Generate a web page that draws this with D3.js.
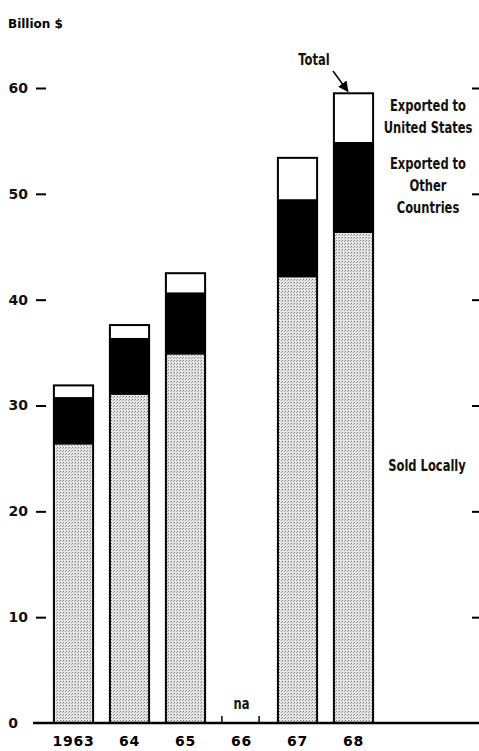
<!DOCTYPE html>
<html>
<head>
<meta charset="utf-8">
<script src="https://cdn.jsdelivr.net/npm/d3@7"></script>
<style>
  body { margin: 0; background: #fff; }
  svg { display: block; }
  .tick text { font-family: "DejaVu Sans", sans-serif; font-weight: bold; }
  .leg { font-family: "DejaVu Sans Condensed", "Liberation Sans Narrow", sans-serif; font-weight: bold; font-size: 16px; fill: #111; }
</style>
</head>
<body>
<div id="chart"></div>
<script>
// Datos (miles de millones de dólares)
var years = ["1963", "64", "65", "66", "67", "68"];
var soldLocally = [26.3, 31.0, 34.8, null, 42.1, 46.3];
var exportedOther = [4.5, 5.4, 5.9, null, 7.4, 8.6];
var exportedUS = [1.1, 1.2, 1.8, null, 3.9, 4.6];
var yTicks = [0, 10, 20, 30, 40, 50, 60];

var W = 479, H = 751;

var svg = d3.select("#chart")
  .append("svg")
  .attr("width", W)
  .attr("height", H);

// patrón punteado para "Sold Locally"
var defs = svg.append("defs");
var pat = defs.append("pattern")
  .attr("id", "stipple")
  .attr("patternUnits", "userSpaceOnUse")
  .attr("width", 3).attr("height", 3);
pat.append("rect").attr("width", 3).attr("height", 3).attr("fill", "#e6e6e6");
pat.append("rect").attr("x", 0).attr("y", 0).attr("width", 1).attr("height", 1).attr("fill", "#7a7a7a");
pat.append("rect").attr("x", 2).attr("y", 1).attr("width", 1).attr("height", 1).attr("fill", "#a0a0a0");

// escalas
var x = d3.scaleBand()
  .domain(years)
  .range([45.5, 381.5])
  .paddingInner(0.3)
  .paddingOuter(0.15);

var y = d3.scaleLinear()
  .domain([0, 60])
  .range([723, 88]);

// datos apilados
var data = years.map(function(yr, i) {
  return { year: yr, local: soldLocally[i], other: exportedOther[i], us: exportedUS[i] };
});
var valid = data.filter(function(d) { return d.local != null; });
var keys = ["local", "other", "us"];
var fills = { local: "url(#stipple)", other: "#000", us: "#fff" };
var stacked = d3.stack().keys(keys)(valid);

// eje izquierdo
var yAxisL = svg.append("g")
  .attr("transform", "translate(46,0)")
  .call(d3.axisLeft(y).tickValues(yTicks).tickSize(10).tickPadding(8));
yAxisL.select(".domain").remove();
yAxisL.selectAll(".tick line").attr("stroke", "#000").attr("stroke-width", 2);
yAxisL.selectAll(".tick text").style("font-size", "14px").attr("fill", "#111");
yAxisL.selectAll(".tick").filter(function(d) { return d === 0; }).select("line").remove();
yAxisL.selectAll(".tick").filter(function(d) { return d === 0; }).select("text").attr("x", -28);

// eje derecho (solo marcas)
var yAxisR = svg.append("g")
  .attr("transform", "translate(472,0)")
  .call(d3.axisRight(y).tickValues(yTicks.slice(1)).tickSize(7).tickFormat(""));
yAxisR.select(".domain").remove();
yAxisR.selectAll(".tick line").attr("stroke", "#000").attr("stroke-width", 2);

// barras
svg.selectAll("g.layer")
  .data(stacked)
  .enter()
  .append("g")
  .attr("class", "layer")
  .attr("fill", function(d) { return fills[d.key]; })
  .selectAll("rect")
  .data(function(d) { return d; })
  .enter()
  .append("rect")
  .attr("x", function(d) { return x(d.data.year); })
  .attr("width", x.bandwidth())
  .attr("y", function(d) { return y(d[1]); })
  .attr("height", function(d) { return y(d[0]) - y(d[1]); });

// contorno de cada barra
svg.selectAll("rect.outline")
  .data(valid)
  .enter()
  .append("rect")
  .attr("class", "outline")
  .attr("x", function(d) { return x(d.year); })
  .attr("width", x.bandwidth())
  .attr("y", function(d) { return y(d.local + d.other + d.us); })
  .attr("height", function(d) { return y(0) - y(d.local + d.other + d.us); })
  .attr("fill", "none")
  .attr("stroke", "#000")
  .attr("stroke-width", 2);

// línea base
svg.append("line")
  .attr("x1", 33).attr("x2", W)
  .attr("y1", y(0)).attr("y2", y(0))
  .attr("stroke", "#000").attr("stroke-width", 2.5);

// eje x: etiquetas de año
svg.selectAll("text.year")
  .data(years)
  .enter()
  .append("text")
  .attr("class", "year")
  .attr("x", function(d) { return x(d) + x.bandwidth() / 2; })
  .attr("y", 746)
  .attr("text-anchor", "middle")
  .style("font-family", "DejaVu Sans, sans-serif")
  .style("font-weight", "bold")
  .style("font-size", "14px")
  .style("letter-spacing", "0.8px")
  .text(function(d) { return d; });

// texto estrecho (escalado en horizontal)
function label(lines, cx, y0, size) {
  var g = svg.append("g").attr("transform", "translate(" + cx + "," + y0 + ") scale(0.8,1)");
  var t = g.append("text").attr("class", "leg").attr("text-anchor", "middle");
  if (size) t.style("font-size", size + "px");
  lines.forEach(function(s, i) {
    t.append("tspan").attr("x", 0).attr("y", i * 22).text(s);
  });
}

// 1966: sin datos
var naX = x("66");
svg.selectAll("line.na")
  .data([naX, naX + x.bandwidth() * 0.95])
  .enter()
  .append("line")
  .attr("class", "na")
  .attr("x1", function(d) { return d; }).attr("x2", function(d) { return d; })
  .attr("y1", y(0) - 7).attr("y2", y(0))
  .attr("stroke", "#000").attr("stroke-width", 1.5);
label(["na"], naX + x.bandwidth() / 2, y(0) - 14, 16);

// título del eje
svg.append("text")
  .attr("x", 8).attr("y", 28)
  .style("font-family", "DejaVu Sans, sans-serif")
  .style("font-weight", "bold")
  .style("font-size", "12px")
  .text("Billion $");

// leyendas
label(["Exported to", "United States"], 428, 111);
label(["Exported to", "Other", "Countries"], 428, 169);
label(["Sold Locally"], 427, 471);

// "Total" con flecha
var last = valid[valid.length - 1];
label(["Total"], 314, 65);
defs.append("marker")
  .attr("id", "arrow")
  .attr("viewBox", "0 0 10 10")
  .attr("refX", 9).attr("refY", 5)
  .attr("markerWidth", 7).attr("markerHeight", 7)
  .attr("orient", "auto")
  .append("path")
  .attr("d", "M0,0 L10,5 L0,10 z")
  .attr("fill", "#000");
svg.append("line")
  .attr("x1", 333).attr("y1", 71)
  .attr("x2", x(last.year) + 14).attr("y2", y(last.local + last.other + last.us) - 2)
  .attr("stroke", "#000").attr("stroke-width", 1.5)
  .attr("marker-end", "url(#arrow)");
</script>
</body>
</html>
